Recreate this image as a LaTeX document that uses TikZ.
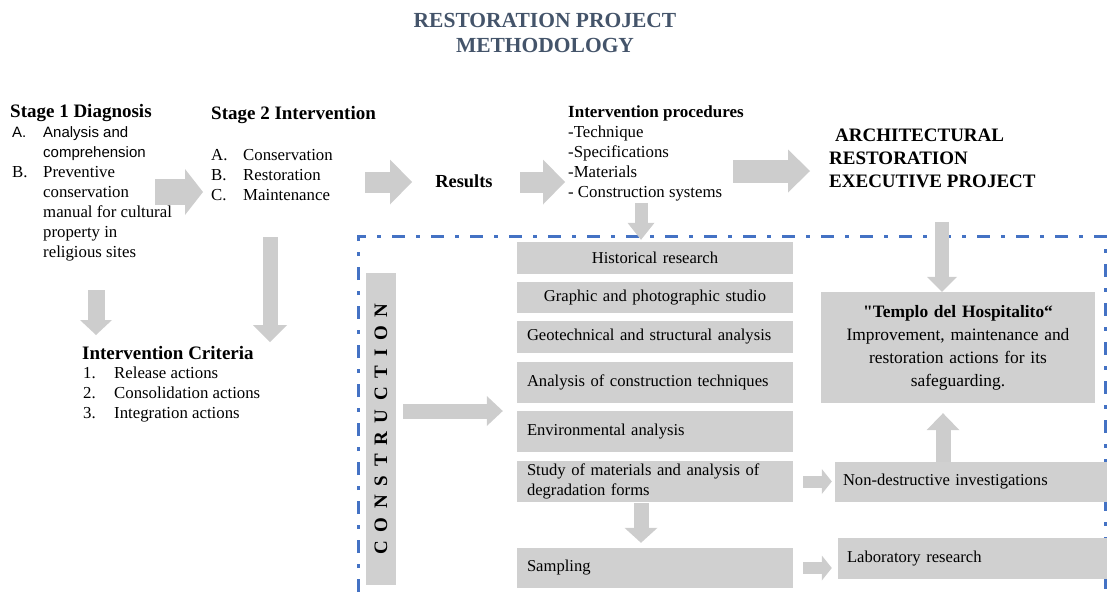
\documentclass[tikz,border=0pt]{standalone}
\usepackage{fontspec}
\setmainfont{Liberation Serif}
\newfontfamily\arialfont{Liberation Sans}
\usetikzlibrary{calc, positioning, arrows.meta}
\definecolor{titleblue}{HTML}{44546A}
\definecolor{boxgray}{HTML}{D0D0D0}
\definecolor{arrowgray}{HTML}{CDCDCD}
\definecolor{frameblue}{HTML}{4472C4}
\tikzset{
  txt/.style={inner sep=0pt, align=left, anchor=north west, font=\fontsize{16.8}{20}\selectfont},
  head/.style={inner sep=0pt, anchor=west, font=\fontsize{#1}{20}\selectfont\bfseries},
  task/.style={fill=boxgray, inner sep=0pt, inner xsep=10pt, text width=256pt, align=left, font=\fontsize{16.6}{20}\selectfont},
  block/.style n args={3}{draw=arrowgray, line width=#1, -{Triangle[width=#2, length=#3, line width=0pt]}},
}
\newcommand{\lbl}[2]{\makebox[31pt][l]{#1}#2}
\newcommand{\dq}{\XeTeXglyph\XeTeXcharglyph"22\relax}

\begin{document}
\begin{tikzpicture}[x=1pt, y=-1pt]
\useasboundingbox (0,0) rectangle (1108,592);

\draw[frameblue, line width=3pt, dash pattern=on 13pt off 11pt on 4pt off 11pt]
  (358,592) -- (358,236) -- (1105,236) -- (1105,592);

% title
\node[font=\fontsize{21.5}{25}\selectfont\bfseries, text=titleblue, align=center] (title) at (545,33) {RESTORATION PROJECT\\METHODOLOGY};

% stages
\node[head=19] (diag) at (10,113) {Stage 1 Diagnosis};
\node[txt] (diaglist) at (12,126) {{\fontsize{15}{20}\arialfont\lbl{A.}{Analysis and}}\\{\fontsize{15}{20}\arialfont\lbl{}{comprehension}}\\\lbl{B.}{Preventive}\\\lbl{}{conservation}\\\lbl{}{manual for cultural}\\\lbl{}{property in}\\\lbl{}{religious sites}};
\node[head=19] (interv) at (211,115) {Stage 2 Intervention};
\node[txt] (intervlist) at (211,149) {\makebox[32pt][l]{A.}Conservation\\\makebox[32pt][l]{B.}Restoration\\\makebox[32pt][l]{C.}Maintenance};
\node[head=18.4, anchor=center] (results) at (464,181) {Results};
\node[head=17] (proc) at (568,113) {Intervention procedures};
\node[txt] (proclist) at (568,126) {-Technique\\-Specifications\\-Materials\\- Construction systems};
\node[txt, font=\fontsize{19}{23}\selectfont\bfseries] (exec) at (829,129) {\hspace*{6pt}ARCHITECTURAL\\RESTORATION\\EXECUTIVE PROJECT};
\node[head=19] (crit) at (82,353) {Intervention Criteria};
\node[txt] (critlist) at (83,367) {\lbl{1.}{Release actions}\\\lbl{2.}{Consolidation actions}\\\lbl{3.}{Integration actions}};

% construction studies
\node[fill=boxgray, rotate=90, minimum width=312pt, minimum height=30pt, inner sep=0pt,
  font=\fontsize{19}{20}\selectfont\bfseries\addfontfeature{LetterSpace=46}] (constr) at (381,429) {CONSTRUCTION};
\node[task, minimum height=32pt, align=center] (hist) at (655,258) {Historical research};
\node[task, minimum height=31pt, align=center] (graph) at (655,297.5) {Graphic and photographic studio};
\node[task, minimum height=32pt] (geo) at (655,337) {Geotechnical and structural analysis};
\node[task, minimum height=41pt] (techn) at (655,382.5) {Analysis of construction techniques};
\node[task, minimum height=41pt] (env) at (655,431.5) {Environmental analysis};
\node[task, minimum height=41pt] (mater) at (655,481.5) {Study of materials and analysis of\\degradation forms};
\node[task, minimum height=40pt] (sampl) at (655,568) {Sampling};
\node[task, text width=256pt, inner xsep=8pt, minimum height=40pt] (nondes) at (971,482) {Non-destructive investigations};
\node[task, text width=251pt, inner xsep=9pt, minimum height=41pt] (lab) at (972.5,558.5) {Laboratory research};
\node[task, text width=254pt, minimum height=111pt, align=center, font=\fontsize{17.4}{23}\selectfont] (templo) at (958,347.5)
  {\textbf{\dq Templo del Hospitalito“}\\Improvement, maintenance and\\restoration actions for its\\safeguarding.};

% arrows between the text blocks
\coordinate (a1s) at (155,192);
\coordinate (a1e) at (203,192);
\coordinate (a2s) at (365,182);
\coordinate (a2e) at (412,182);
\coordinate (a3s) at (520,182);
\coordinate (a3e) at (565,182);
\coordinate (a4s) at (733,171);
\coordinate (a4e) at (810,171);
\coordinate (d1s) at (96,290);
\coordinate (d1e) at (96,335);
\coordinate (d2s) at (270,237);
\coordinate (d2e) at (270,342);
\draw[block={26pt}{46pt}{18pt}] (a1s) -- (a1e);
\draw[block={21pt}{45pt}{22pt}] (a2s) -- (a2e);
\draw[block={21pt}{45pt}{22pt}] (a3s) -- (a3e);
\draw[block={23pt}{43pt}{22pt}] (a4s) -- (a4e);
\draw[block={17pt}{32pt}{15pt}] (d1s) -- (d1e);
\draw[block={15pt}{34pt}{17pt}] (d2s) -- (d2e);

% arrows into and inside the frame
\draw[block={13pt}{27pt}{17pt}] ($(hist.north)+(-14,-39)$) -- ([xshift=-14pt, yshift=2pt]hist.north);
\draw[block={14pt}{30pt}{15pt}] ($(templo.north)+(-16,-70)$) -- ([xshift=-16pt]templo.north);
\draw[block={15pt}{30pt}{16pt}, shorten <=7pt, shorten >=14pt] ([yshift=18pt]constr.south) -- ([yshift=18pt]constr.south -| env.west);
\draw[block={15pt}{33pt}{17pt}, shorten >=10pt] ([xshift=-28pt]nondes.north) -- ([xshift=-28pt]nondes.north |- templo.south);
\draw[block={12pt}{25pt}{10pt}, shorten <=10pt, shorten >=3pt] (mater.east) -- (mater.east -| nondes.west);
\draw[block={15pt}{33pt}{15pt}, shorten <=1pt, shorten >=5pt] ([xshift=-14pt]mater.south) -- ([xshift=-14pt]mater.south |- sampl.north);
\draw[block={12pt}{25pt}{10pt}, shorten <=10pt, shorten >=6pt] (sampl.east) -- (sampl.east -| lab.west);
\end{tikzpicture}
\end{document}
